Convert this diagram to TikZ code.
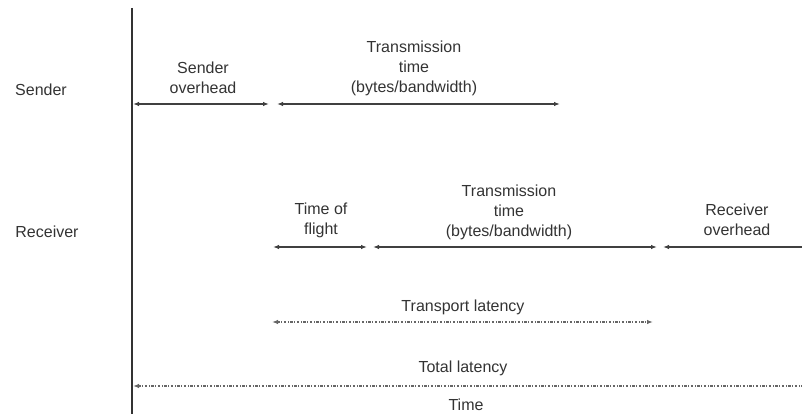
\documentclass[tikz,border=0pt]{standalone}
\usepackage{fontspec}
\setmainfont{Liberation Sans}
\usetikzlibrary{arrows.meta}
\tikzset{
txt/.style={
		align=center,
		text=black!80,
		inner sep=0pt,
		font=\fontsize{16}{20}\selectfont
	},
span/.style={
		draw=black!75,
		line width=1.6pt,
		{Latex[length=6pt,width=4.5pt]}-{Latex[length=6pt,width=4.5pt]}
	},
halfspan/.style={
		span,
		{Latex[length=6pt,width=4.5pt]}-
	},
latency/.style={
		draw=black!60,
		line width=1.2pt,
		dash pattern=on 2.5pt off 1.5pt on 1pt off 1.5pt,
		{Latex[length=6pt,width=4.5pt]}-{Latex[length=6pt,width=4.5pt]}
	},
halflatency/.style={
		latency,
		{Latex[length=6pt,width=4.5pt]}-
	}
}
\begin{document}
\begin{tikzpicture}[x=1pt,y=-1pt]
			\useasboundingbox (0,0) rectangle (802,414);
			\coordinate (axtop) at (132,8);
			\coordinate (axbot) at (132,414);
			\draw[line width=1.6pt, black!80] (axtop) -- (axbot);
			\node[txt] (sender) at (41,90) {Sender};
			\node[txt] (receiver) at (47,232) {Receiver};
			\coordinate (s0) at (133,104);
			\coordinate (s1) at (269,104);
			\coordinate (s2) at (277,104);
			\coordinate (s3) at (560,104);
			\draw[span] (s0) -- (s1);
			\draw[span] (s2) -- (s3);
			\node[txt] (sover) at (203,78) {Sender\\overhead};
			\node[txt] (stx) at (414,68) {Transmission\\time\\(bytes/bandwidth)};
			\coordinate (r0) at (273,247);
			\coordinate (r1) at (367,247);
			\coordinate (r2) at (373,247);
			\coordinate (r3) at (657,247);
			\coordinate (r4) at (663,247);
			\coordinate (r5) at (802,247);
			\draw[span] (r0) -- (r1);
			\draw[span] (r2) -- (r3);
			\draw[halfspan] (r4) -- (r5);
			\node[txt] (flight) at (321,220) {Time of\\flight};
			\node[txt] (rtx) at (509,212) {Transmission\\time\\(bytes/bandwidth)};
			\node[txt] (rover) at (737,220) {Receiver\\overhead};
			\coordinate (p0) at (272,322);
			\coordinate (p1) at (653,322);
			\draw[latency] (p0) -- (p1);
			\node[txt] (transport) at (463,307) {Transport latency};
			\coordinate (l0) at (133,386);
			\coordinate (l1) at (802,386);
			\draw[halflatency] (l0) -- (l1);
			\node[txt] (total) at (463,368) {Total latency};
			\node[txt] (time) at (466,405) {Time};
			\end{tikzpicture}
\end{document}
